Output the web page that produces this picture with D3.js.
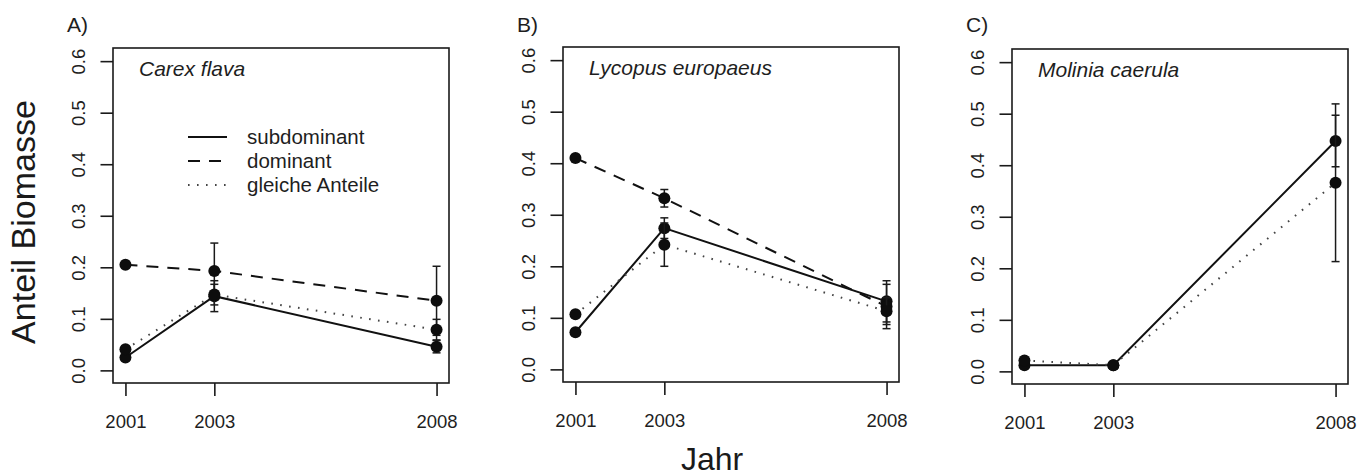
<!DOCTYPE html>
<html>
<head>
<meta charset="utf-8">
<script src="https://cdn.jsdelivr.net/npm/d3@7"></script>
<style>
  html, body { margin: 0; padding: 0; background: #fff; }
  svg { display: block; font-family: "Liberation Sans", Arial, sans-serif; }
</style>
</head>
<body>
<svg id="chart" width="1368" height="476"></svg>
<script>
// ---- data ----
const years = [2001, 2003, 2008];
const yTicks = [0.0, 0.1, 0.2, 0.3, 0.4, 0.5, 0.6];
const panelLabels = ["A)", "B)", "C)"];
const species = ["Carex flava", "Lycopus europaeus", "Molinia caerula"];
const seriesNames = ["subdominant", "dominant", "gleiche Anteile"];

// per panel, values for 2001, 2003, 2008
const subdominant    = [[0.025, 0.144, 0.046], [0.072, 0.274, 0.132], [0.012, 0.012, 0.447]];
const subdominantSE  = [[0.004, 0.030, 0.012], [0.004, 0.020, 0.040], [0.003, 0.002, 0.050]];
const dominant       = [[0.205, 0.193, 0.135], [0.410, 0.332, 0.122], null];
const dominantSE     = [[0.003, 0.054, 0.067], [0.003, 0.017, 0.043], null];
const gleiche        = [[0.041, 0.147, 0.079], [0.107, 0.242, 0.113], [0.021, 0.012, 0.366]];
const gleicheSE      = [[0.003, 0.020, 0.020], [0.003, 0.042, 0.026], [0.004, 0.002, 0.153]];

const xLabel = "Jahr";
const yLabel = "Anteil Biomasse";

// ---- layout ----
const svg = d3.select("#chart");
const ink = "#1a1a1a";
const boxW = 336, boxH = 335;
const lefts = [113, 563, 1012];
const tops = [48, 47, 49];

const styles = [
  { dash: null, width: 2, color: "#111" },
  { dash: "12,9", width: 2, color: "#111" },
  { dash: "1.6,7.4", width: 2, color: "#444" }
];

const seriesVals = [subdominant, dominant, gleiche];
const seriesSE = [subdominantSE, dominantSE, gleicheSE];

panelLabels.forEach((lab, p) => {
  const L = lefts[p], T = tops[p];
  const g = svg.append("g").attr("transform", `translate(${L},${T})`);
  const x = d3.scaleLinear().domain([2000.72, 2008.28]).range([0, boxW]);
  const y = d3.scaleLinear().domain([-0.0245, 0.6255]).range([boxH, 0]);

  // y axis
  const ya = g.append("g").call(d3.axisLeft(y).tickValues(yTicks).tickSize(12.5).tickSizeOuter(0).tickFormat(d3.format(".1f")));
  ya.select(".domain").remove();
  ya.selectAll(".tick line").attr("stroke", ink).attr("stroke-width", 1.6);
  ya.selectAll(".tick text")
    .attr("x", null).attr("dy", null)
    .attr("transform", "translate(-28,0) rotate(-90)")
    .attr("text-anchor", "middle")
    .attr("font-size", 18.5)
    .attr("fill", "#1e1e1e")
    .attr("font-family", "Liberation Sans, Arial, sans-serif");

  // x axis
  const xa = g.append("g").attr("transform", `translate(0,${boxH})`)
    .call(d3.axisBottom(x).tickValues(years).tickSize(13).tickSizeOuter(0).tickFormat(d3.format("d")));
  xa.select(".domain").remove();
  xa.selectAll(".tick line").attr("stroke", ink).attr("stroke-width", 1.6);
  xa.selectAll(".tick text")
    .attr("y", 45).attr("dy", null)
    .attr("font-size", 18.5)
    .attr("fill", "#1e1e1e")
    .attr("font-family", "Liberation Sans, Arial, sans-serif");

  // box
  g.append("rect").attr("x", 0).attr("y", 0).attr("width", boxW).attr("height", boxH)
    .attr("fill", "none").attr("stroke", ink).attr("stroke-width", 1.6);

  // panel label
  svg.append("text").attr("x", L - 46).attr("y", 32).attr("font-size", 21).attr("fill", "#1e1e1e").text(lab);

  // species name
  g.append("text").attr("x", 26).attr("y", 28).attr("font-size", 21).attr("font-style", "italic")
    .attr("fill", "#1e1e1e").text(species[p]);

  // series
  seriesVals.forEach((vals, s) => {
    const v = vals[p];
    if (!v) return;
    const se = seriesSE[s][p];
    const st = styles[s];
    const pts = years.map((yr, i) => ({ yr, v: v[i], se: se[i] }));
    const line = d3.line().x(d => x(d.yr)).y(d => y(d.v));
    g.append("path").attr("d", line(pts)).attr("fill", "none")
      .attr("stroke", st.color).attr("stroke-width", st.width)
      .attr("stroke-dasharray", st.dash);
    // error bars
    pts.forEach(d => {
      const x0 = x(d.yr), y1 = y(d.v + d.se), y2 = y(d.v - d.se);
      if (Math.abs(y2 - y1) < 4) return;
      g.append("line").attr("x1", x0).attr("x2", x0).attr("y1", y1).attr("y2", y2)
        .attr("stroke", ink).attr("stroke-width", 1.5);
      [y1, y2].forEach(yy => g.append("line").attr("x1", x0 - 4).attr("x2", x0 + 4)
        .attr("y1", yy).attr("y2", yy).attr("stroke", ink).attr("stroke-width", 1.5));
    });
    // points
    g.selectAll(null).data(pts).enter().append("circle")
      .attr("cx", d => x(d.yr)).attr("cy", d => y(d.v)).attr("r", 6).attr("fill", "#0d0d0d");
  });

  // legend in first panel
  if (p === 0) {
    const lg = g.append("g");
    seriesNames.forEach((nm, s) => {
      const st = styles[s];
      const ly = 89 + s * 24;
      lg.append("line").attr("x1", 75).attr("x2", 114).attr("y1", ly).attr("y2", ly)
        .attr("stroke", st.color).attr("stroke-width", st.width).attr("stroke-dasharray", st.dash);
      lg.append("text").attr("x", 134).attr("y", ly).attr("dy", "0.35em")
        .attr("font-size", 20.5).attr("fill", "#1e1e1e").text(nm);
    });
  }
});

// axis titles
svg.append("text").attr("x", 712).attr("y", 470).attr("text-anchor", "middle")
  .attr("font-size", 32).attr("fill", "#1a1a1a").text(xLabel);
svg.append("text").attr("transform", "translate(35,222) rotate(-90)").attr("text-anchor", "middle")
  .attr("font-size", 34).attr("fill", "#1a1a1a").text(yLabel);
</script>
</body>
</html>
